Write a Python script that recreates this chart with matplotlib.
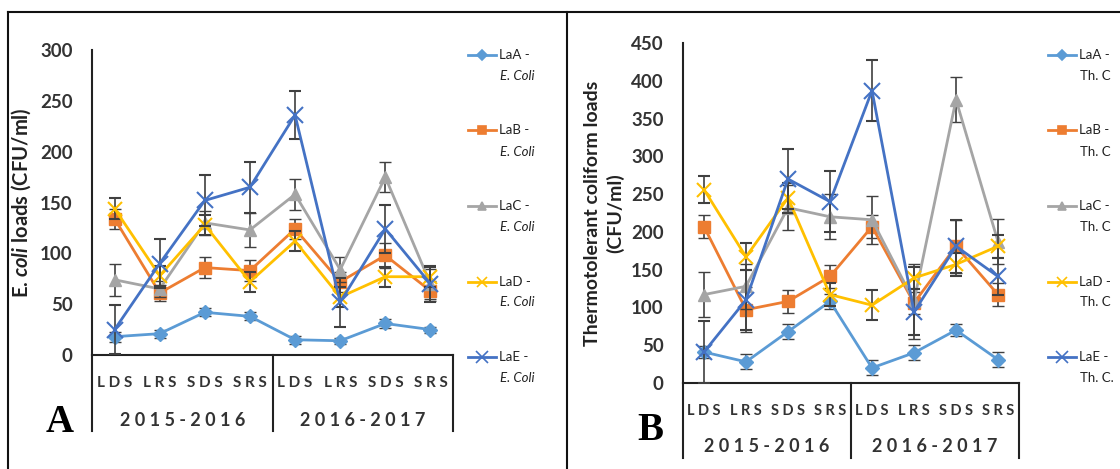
import matplotlib
matplotlib.use("Agg")
import matplotlib.pyplot as plt
import matplotlib.transforms as mtransforms
from matplotlib.lines import Line2D
import numpy as np

plt.rcParams['font.family'] = ['Lato', 'DejaVu Sans']
plt.rcParams['mathtext.fontset'] = 'custom'
plt.rcParams['mathtext.it'] = 'Lato:italic:bold'
plt.rcParams['mathtext.rm'] = 'Lato:bold'
plt.rcParams['mathtext.bf'] = 'Lato:bold'

# ---------------------- DATA ----------------------
seasons = ["L D S", "L R S", "S D S", "S R S"] * 2
years = ["2 0 1 5 - 2 0 1 6", "2 0 1 6 - 2 0 1 7"]
lakes = ["LaA", "LaB", "LaC", "LaD", "LaE"]

# Panel A - E. coli (CFU/ml)
ecoli_A = [18, 21, 42, 38, 15, 14, 31, 25]
ecoli_B = [134, 61, 86, 83, 124, 72, 98, 63]
ecoli_C = [74, 65, 130, 123, 158, 84, 175, 70]
ecoli_D = [144, 78, 128, 72, 112, 57, 77, 77]
ecoli_E = [25, 90, 152, 165, 236, 52, 124, 70]
ecoli_A_err = [5, 4, 4, 4, 4, 3, 4, 3]
ecoli_B_err = [10, 8, 10, 10, 10, 10, 12, 10]
ecoli_C_err = [16, 8, 12, 17, 15, 12, 15, 15]
ecoli_D_err = [10, 10, 10, 10, 10, 10, 10, 10]
ecoli_E_err = [24, 24, 25, 25, 24, 24, 24, 18]

# Panel B - Thermotolerant coliforms (CFU/ml)
thc_A = [41, 28, 68, 108, 20, 40, 70, 31]
thc_B = [207, 97, 108, 141, 207, 106, 181, 117]
thc_C = [117, 128, 232, 220, 216, 108, 375, 187]
thc_D = [256, 167, 245, 117, 103, 139, 157, 181]
thc_E = [41, 110, 270, 240, 387, 94, 181, 141]
thc_A_err = [8, 10, 10, 10, 10, 10, 8, 10]
thc_B_err = [15, 30, 15, 15, 15, 15, 35, 15]
thc_C_err = [30, 30, 30, 30, 32, 50, 30, 30]
thc_D_err = [18, 18, 20, 15, 20, 15, 15, 15]
thc_E_err = [41, 40, 40, 40, 40, 30, 35, 25]

colors = ["#5B9BD5", "#ED7D31", "#A5A5A5", "#FFC000", "#4472C4"]
markers = ["D", "s", "^", "x", "x"]
msizes = [7, 9, 9, 10, 12]

W, H = 1120, 469
fig = plt.figure(figsize=(W / 100, H / 100), dpi=100)


def px(x0, y0, x1, y1):
    return [x0 / W, 1 - y1 / H, (x1 - x0) / W, (y1 - y0) / H]


def panel(ax, series, errs, ymax, step, letter, sub, leg_x, cat_pad, cat_fs, year_y, sep_y,
          letter_pos):
    x = np.arange(len(seasons))
    for i, (vals, err) in enumerate(zip(series, errs)):
        ax.errorbar(x, vals, yerr=err, color=colors[i], lw=2, marker=markers[i],
                    ms=msizes[i], mew=1.5 if markers[i] == "x" else 1,
                    ecolor="#404040", elinewidth=1.2, capsize=4, capthick=1.2, zorder=3 + i)
    ax.set_xlim(-0.5, 7.5)
    ax.set_ylim(0, ymax)
    ax.set_yticks(np.arange(0, ymax + 1, step))
    ax.tick_params(axis='y', length=0, pad=14, labelsize=13.5)
    for t in ax.get_yticklabels():
        t.set_fontweight('bold')
        t.set_color('#333333')
    ax.set_xticks(x)
    ax.set_xticklabels(seasons, fontsize=cat_fs, fontweight='bold', color='#333333')
    ax.tick_params(axis='x', length=0, pad=cat_pad)
    for s in ['top', 'right']:
        ax.spines[s].set_visible(False)
    for s in ['left', 'bottom']:
        ax.spines[s].set_color('#222222')
        ax.spines[s].set_linewidth(1.5)

    tr = mtransforms.blended_transform_factory(ax.transData, ax.transAxes)
    for xs in [-0.5, 3.5, 7.5]:
        ax.add_line(Line2D([xs, xs], [0, sep_y], transform=tr, color='#222222',
                           lw=1.5, clip_on=False))
    for k, yr in enumerate(years):
        ax.text(1.5 + 4 * k, year_y, yr, transform=tr, ha='center', va='center',
                fontsize=13, fontweight='bold', color='#333333')
    ax.text(letter_pos[0], letter_pos[1], letter, transform=fig.transFigure,
            ha='center', va='center', fontsize=28, fontweight='bold',
            family='Liberation Serif')

    # legend
    for i, name in enumerate(lakes):
        yl = (55 + 75.5 * i)
        y_f = 1 - yl / H
        fig.add_artist(Line2D([leg_x / W, (leg_x + 28) / W], [y_f, y_f], color=colors[i], lw=2))
        fig.add_artist(Line2D([(leg_x + 14) / W], [y_f], color=colors[i],
                              marker=markers[i], ms=msizes[i] * 0.7, mew=1.2, lw=0))
        fig.text((leg_x + 31) / W, y_f, name + " -", ha='left', va='center',
                 fontsize=9.5, color='#222222')
        fig.text((leg_x + 32) / W, 1 - (yl + 21) / H, sub[i], ha='left', va='center',
                 fontsize=9.5, style='italic' if sub[i].startswith('E') else 'normal',
                 color='#222222')


axA = fig.add_axes(px(92, 50, 453, 355))
panel(axA, [ecoli_A, ecoli_B, ecoli_C, ecoli_D, ecoli_E],
      [ecoli_A_err, ecoli_B_err, ecoli_C_err, ecoli_D_err, ecoli_E_err],
      300, 50, "A", ["E. Coli"] * 5, 468, 15, 11, -0.215, -0.25, (60 / W, 1 - 422 / H))
axA.set_ylabel(r"E. $\mathit{coli}$ loads (CFU/ml)", fontsize=14.5, fontweight='bold',
               color='#222222', labelpad=5)

axB = fig.add_axes(px(683, 43, 1019, 383))
panel(axB, [thc_A, thc_B, thc_C, thc_D, thc_E],
      [thc_A_err, thc_B_err, thc_C_err, thc_D_err, thc_E_err],
      450, 50, "B", ["Th. C", "Th. C", "Th. C", "Th. C", "Th. C."], 1048, 15, 10.5,
      -0.188, -0.22, (650 / W, 1 - 430 / H))
axB.set_ylabel("Thermotolerant coliform loads\n(CFU/ml)", fontsize=14, fontweight='bold',
               color='#222222', labelpad=5, linespacing=1.3)

# panel frames
frame = dict(color='#111111', lw=1.5)
fig.add_artist(Line2D([8 / W, 1], [1 - 12 / H, 1 - 12 / H], **frame))
fig.add_artist(Line2D([8 / W, 8 / W], [0, 1 - 12 / H], **frame))
fig.add_artist(Line2D([567 / W, 567 / W], [0, 1 - 12 / H], **frame))

fig.savefig("out.png", dpi=100)
